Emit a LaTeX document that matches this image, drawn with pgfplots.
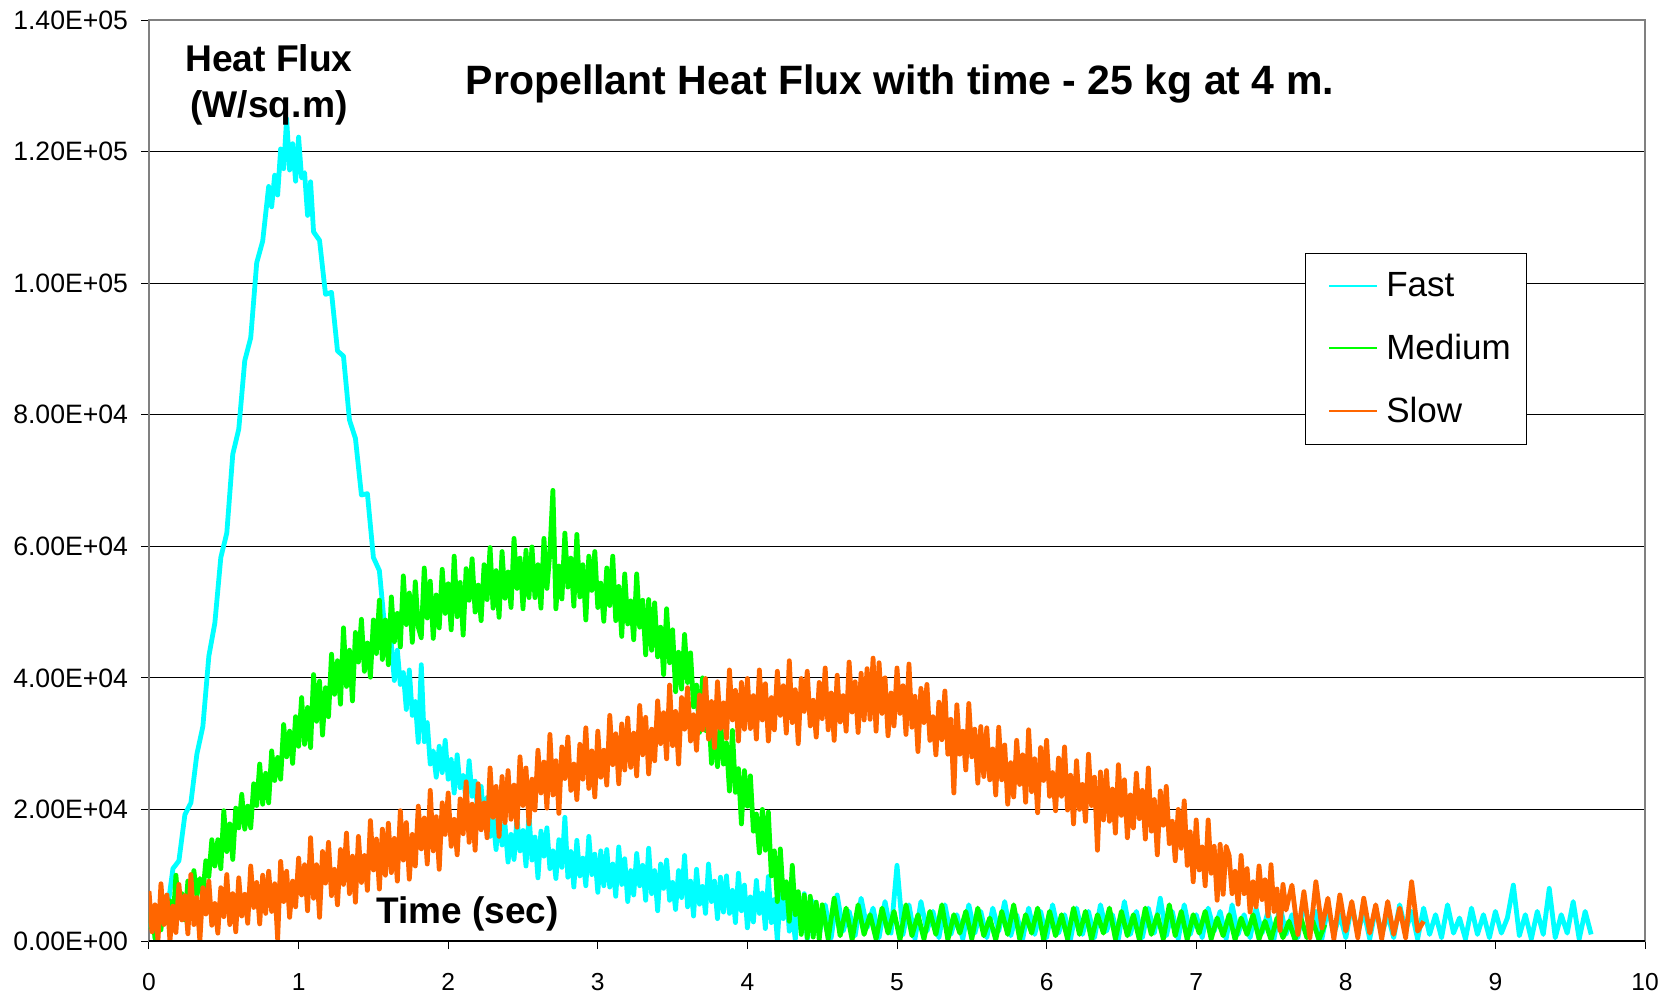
\documentclass[border=0pt]{standalone}
\usepackage{fontspec}
\setmainfont{Liberation Sans}
\usepackage{pgfplots}
\pgfplotsset{compat=1.18}
\definecolor{cfast}{RGB}{0,255,255}
\definecolor{cmed}{RGB}{0,255,0}
\definecolor{cslow}{RGB}{255,102,0}
\begin{document}
\begin{tikzpicture}
\useasboundingbox (-74.5pt,-26pt) rectangle (758.5pt,470.5pt);
\begin{axis}[
  at={(0,0)}, anchor=south west,
  scale only axis, width=748pt, height=460.5pt,
  xmin=0, xmax=10, ymin=0, ymax=140,
  xtick={0,1,...,10}, ytick={0,20,...,140},
  yticklabels={0.00E+00,2.00E+04,4.00E+04,6.00E+04,8.00E+04,1.00E+05,1.20E+05,1.40E+05},
  ymajorgrids, major grid style={black, line width=0.5pt},
  axis line style={draw=gray, line width=0.75pt},
  tick align=outside, tick pos=left, tick style={black, line width=0.5pt}, major tick length=4pt,
  xticklabel style={font=\fontsize{12.3}{14}\selectfont, yshift=-8.5pt},
  yticklabel style={font=\fontsize{13.3}{15}\selectfont, xshift=-3pt},
  /pgf/number format/assume math mode=true,
  every axis title shift=0pt,
  title={Propellant Heat Flux with time - 25 kg at 4 m.},
  title style={at={(rel axis cs:0.502,0.931)}, anchor=center, font=\bfseries\fontsize{20.5}{24}\selectfont},
  xlabel={Time (sec)},
  xlabel style={at={(rel axis cs:0.213,0.029)}, anchor=center, font=\bfseries\fontsize{18.5}{22}\selectfont},
  ylabel={Heat Flux\\(W/sq.m)},
  ylabel style={at={(rel axis cs:0.0802,0.930)}, anchor=center, rotate=-90, align=center, font=\bfseries\fontsize{18.6}{23}\selectfont},
  legend style={at={(rel axis cs:0.7727,0.747)}, anchor=north west, draw=black, line width=0.5pt, fill=white,
    font=\fontsize{17.5}{21}\selectfont, row sep=13.2pt, inner xsep=6pt, inner ysep=7.5pt, cells={anchor=west}},
  legend image code/.code={\path (0pt,0pt) (30pt,0pt); \draw[#1, line width=1pt] (4.8pt,0pt) -- (28.8pt,0pt);},
  every axis plot/.append style={line width=2.4pt, line join=round, mark=none},
]
\addplot[color=cfast] coordinates {
(0,2.7)(0.04,1.1)(0.08,3.5)(0.12,4.2)(0.16,11)(0.20,12.2)(0.24,19.2)(0.28,21)(0.32,28.4)(0.36,32.6)(0.40,43.3)(0.44,48.3)(0.48,58.3)(0.52,62)(0.56,74)(0.60,77.8)(0.64,88.2)(0.68,91.7)(0.72,103.1)(0.76,106.4)(0.80,114.7)
(0.82,111.6)(0.84,116.4)(0.86,113.4)(0.88,120.4)(0.90,117.4)(0.92,125)(0.94,117.2)(0.96,121.2)(0.98,115.5)(1.00,122.2)(1.02,116)(1.04,116.8)(1.06,110.3)(1.08,115.4)(1.10,107.8)
(1.14,106.5)(1.18,98.3)(1.22,98.6)(1.26,89.7)(1.30,88.9)(1.34,79.2)(1.38,76.4)(1.42,67.8)(1.46,68)(1.50,58.3)(1.54,56.3)(1.58,46.5)(1.62,45.1)
(1.64,39.6)(1.66,44.2)(1.68,39.0)(1.70,40.8)(1.72,35.2)(1.74,41.2)(1.76,34.3)(1.78,36.4)(1.80,30.2)(1.82,42)(1.84,30.3)(1.86,33.2)(1.88,26.9)(1.90,28.9)(1.92,24.9)(1.94,29.6)(1.96,25.6)(1.98,30.5)
(2.00,24.6)(2.02,27.6)(2.04,22.5)(2.06,28.3)(2.08,23.3)(2.10,25.2)(2.12,21.2)(2.14,27.4)(2.16,22.0)(2.18,24.3)(2.20,18.9)(2.22,23.5)(2.24,17.9)(2.26,21.8)(2.28,15.9)(2.30,18.6)(2.32,13.9)(2.34,20)(2.36,14.6)(2.38,17.6)(2.40,12)
(2.42,16.2)(2.44,12.4)(2.46,18.7)(2.48,13.7)(2.50,16.8)(2.52,11.4)(2.54,19.3)(2.56,12.3)(2.58,15.8)(2.60,9.6)(2.62,16.7)(2.64,12.9)(2.66,17.2)(2.68,11)(2.70,13.7)(2.72,9.5)(2.74,15.4)(2.76,11.2)(2.78,18.8)(2.80,9.7)
(2.82,13.6)(2.84,8.2)(2.86,15.3)(2.88,9.9)(2.90,12.6)(2.92,8.4)(2.94,15.9)(2.96,10.1)(2.98,13.2)(3.00,7.4)(3.02,13.7)(3.04,8.4)(3.06,13.9)(3.08,8.2)(3.10,11.7)(3.12,6.8)(3.14,14.3)(3.16,8.6)(3.18,12.5)(3.20,6)
(3.22,10.7)(3.24,7)(3.26,13.3)(3.28,8.4)(3.30,11.5)(3.32,6.2)(3.34,14.1)(3.36,7.2)(3.38,10.7)(3.40,4.6)(3.42,11.7)(3.44,8)(3.46,12.3)(3.48,6.2)(3.50,8.9)(3.52,4.8)(3.54,10.7)(3.56,6.6)(3.58,13)(3.60,5.2)
(3.62,9.1)(3.64,3.8)(3.66,10.9)(3.68,5.6)(3.70,8.3)(3.72,4.2)(3.74,11.7)(3.76,6)(3.78,9.1)(3.80,3.4)(3.82,9.7)(3.84,4.4)(3.86,9.9)(3.88,4.2)(3.90,7.7)(3.92,2.8)(3.94,10.3)(3.96,4.6)(3.98,8.5)(4.00,2)
(4.02,6.7)(4.04,2.9)(4.06,9.2)(4.08,4.2)(4.10,7.3)(4.12,1.9)(4.14,9.8)(4.16,2.8)(4.18,6.3)(4.20,0.1)(4.22,7.2)(4.24,3.4)(4.26,7.7)(4.28,1.5)(4.30,4.2)(4.32,0.2)(4.34,5.9)(4.36,1.7)(4.38,7.2)(4.40,0.2)
(4.44,6.0)(4.48,1.0)(4.52,5.5)(4.56,0.5)(4.60,7.0)(4.64,1.5)(4.68,4.5)(4.72,0.8)(4.76,6.5)(4.80,2.0)(4.84,5.0)(4.88,0.5)(4.92,6.0)(4.96,1.2)(5.00,11.5)(5.04,1.0)(5.08,5.5)(5.12,0.3)(5.16,6.0)(5.20,1.5)
(5.24,4.5)(5.28,0.5)(5.32,5.5)(5.36,1.0)(5.40,4.0)(5.44,0.3)(5.48,5.5)(5.52,1.2)(5.56,4.5)(5.60,0.5)(5.64,5.0)(5.68,1.5)(5.72,6.0)(5.76,0.8)(5.80,4.0)(5.84,0.3)(5.88,5.0)(5.92,1.0)(5.96,4.5)(6.00,0.5)
(6.04,5.5)(6.08,1.2)(6.12,4.0)(6.16,0.3)(6.20,5.0)(6.24,1.0)(6.28,4.5)(6.32,0.5)(6.36,5.5)(6.40,1.5)(6.44,4.0)(6.48,0.3)(6.52,6.0)(6.56,1.0)(6.60,4.5)(6.64,0.5)(6.68,5.0)(6.72,1.2)(6.76,6.5)(6.80,0.8)
(6.84,4.5)(6.88,0.3)(6.92,5.5)(6.96,1.0)(7.00,4.0)(7.04,0.5)(7.08,5.0)(7.12,1.5)(7.16,4.5)(7.20,0.3)(7.24,5.5)(7.28,1.0)(7.32,4.0)(7.36,0.5)(7.40,5.0)(7.44,1.2)(7.48,4.5)(7.52,0.3)(7.56,5.5)(7.60,1.0)
(7.64,4.0)(7.68,0.5)(7.72,6.0)(7.76,1.5)(7.80,4.5)(7.84,0.3)(7.88,5.0)(7.92,1.0)(7.96,4.0)(8.00,0.5)(8.04,5.5)(8.08,1.2)(8.12,4.5)(8.16,0.3)(8.20,5.0)(8.24,1.0)(8.28,4.0)(8.32,0.5)(8.36,5.5)(8.40,1.5)
(8.44,4.5)(8.48,0.3)(8.52,5.0)(8.56,1.0)(8.60,4.0)(8.64,0.5)(8.68,5.5)(8.72,1.2)(8.76,3.5)(8.80,0.3)(8.84,5.0)(8.88,1.0)(8.92,4.0)(8.96,0.5)(9.00,4.5)(9.04,1.2)(9.08,3.5)(9.12,8.5)(9.16,0.8)(9.20,4.0)
(9.24,0.3)(9.28,4.5)(9.32,1.0)(9.36,8.0)(9.40,0.5)(9.44,4.0)(9.48,1.2)(9.52,6.0)(9.56,0.3)(9.60,4.5)(9.64,1.0)
};
\addlegendentry{Fast}
\addplot[color=cmed] coordinates {
(0.00,1.8)(0.02,5.0)(0.04,0.4)(0.06,4.2)(0.08,1.7)(0.10,6.7)(0.12,3.4)(0.14,6.1)(0.16,2.5)(0.18,10)(0.20,4.0)(0.22,7.2)(0.24,3.2)(0.26,9.1)(0.28,6.9)(0.30,10.7)(0.32,6.8)(0.34,9.5)(0.36,7.1)(0.38,12.2)(0.40,9.8)
(0.42,15.4)(0.44,11.4)(0.46,15.4)(0.48,11)(0.50,19.8)(0.52,13.6)(0.54,17.8)(0.56,12.4)(0.58,20.2)(0.60,17.2)(0.62,22.3)(0.64,17)(0.66,20.5)(0.68,17.2)(0.70,23.9)(0.72,20.6)(0.74,26.9)(0.76,20.8)(0.78,25.5)(0.80,21)
(0.82,28.9)(0.84,24.4)(0.86,27.9)(0.88,24.6)(0.90,32.9)(0.92,28)(0.94,31.9)(0.96,27)(0.98,34.1)(1.00,29.6)
(1.02,37)(1.04,29.9)(1.06,35.5)(1.08,29.4)(1.10,40.5)(1.12,33.4)(1.14,39.5)(1.16,31.3)(1.18,38.5)(1.20,34.1)(1.22,43.6)(1.24,37.5)(1.26,42.6)(1.28,36)(1.30,47.6)(1.32,38.7)(1.34,44.2)(1.36,36.5)(1.38,46.9)(1.40,42.4)
(1.42,48.9)(1.44,41)(1.46,45.3)(1.48,40.1)(1.50,48.8)(1.52,43.7)(1.54,51.8)(1.56,42.8)(1.58,48.8)(1.60,42)(1.62,52.3)(1.64,45.5)(1.66,49.8)(1.68,44.7)(1.70,55.5)(1.72,48.1)(1.74,52.9)(1.76,45.4)(1.78,54.6)(1.80,47.7)
(1.82,46.1)(1.84,56.7)(1.86,49.1)(1.88,54.7)(1.90,46)(1.92,52.6)(1.94,47.6)(1.96,56.5)(1.98,49.8)(2.00,54.3)(2.02,47.3)(2.04,58.5)(2.06,49.3)(2.08,54.5)(2.10,46.5)(2.12,56.6)(2.14,51.8)(2.16,58.1)(2.18,50)(2.20,54.1)
(2.22,48.7)(2.24,57.2)(2.26,51.9)(2.28,59.8)(2.30,50.6)(2.32,56.3)(2.34,49.2)(2.36,59.2)(2.38,52.1)(2.40,56.1)(2.42,50.7)(2.44,61.2)(2.46,53.6)(2.48,58.2)(2.50,50.5)(2.52,59.4)(2.54,52.2)(2.56,59.9)(2.58,52.2)(2.60,57.2)
(2.62,50.6)(2.64,61.2)(2.66,53.6)(2.68,59.2)(2.70,68.5)(2.72,50.5)(2.74,57)(2.76,52)(2.78,62)(2.80,53.8)(2.82,58.2)(2.84,50.9)(2.86,61.8)(2.88,52.3)(2.90,57.2)(2.92,48.8)(2.94,58.5)(2.96,53.3)(2.98,59.2)(3.00,50.7)
(3.02,54.4)(3.04,48.6)(3.06,56.7)(3.08,51)(3.10,58.5)(3.12,48.7)(3.14,53.9)(3.16,46.3)(3.18,55.8)(3.20,48.2)(3.22,51.7)(3.24,45.8)(3.26,55.8)(3.28,47.7)(3.30,51.8)(3.32,43.5)(3.34,51.9)(3.36,44.2)(3.38,51.4)(3.40,43.2)
(3.42,47.7)(3.44,40.5)(3.46,50.5)(3.48,42.3)(3.50,47.3)(3.52,37.9)(3.54,43.9)(3.56,38.3)(3.58,46.6)(3.60,39.3)
(3.62,43.8)(3.64,35.6)(3.66,38.9)(3.68,31.7)(3.70,40)(3.72,32)(3.74,36)(3.76,27)(3.78,32)(3.80,26.5)(3.82,33.7)(3.84,26.9)(3.86,30.1)(3.88,22.8)(3.90,32)(3.92,22.6)(3.94,26.2)(3.96,17.8)(3.98,25.9)(4.00,20.5)
(4.02,25.1)(4.04,16.7)(4.06,19.3)(4.08,13.4)(4.10,20)(4.12,13.8)(4.14,19.6)(4.16,9.9)(4.18,13.7)(4.20,6)(4.22,14)(4.24,6.5)(4.26,9)(4.28,3)(4.30,11.5)(4.32,4)(4.34,7.5)(4.36,1)(4.38,7)(4.40,0.5)
(4.42,6.8)(4.44,0.6)(4.46,5.9)(4.48,0.2)(4.50,5.5)
(4.54,0.3)(4.58,6.5)(4.62,0.8)(4.66,5.0)(4.70,0.2)(4.74,5.5)(4.78,1.0)(4.82,4.0)(4.86,0.3)(4.90,5.0)(4.94,1.2)(4.98,4.5)(5.02,0.2)(5.06,5.5)(5.10,0.8)(5.14,4.0)(5.18,0.3)(5.22,4.5)(5.26,1.0)(5.30,5.5)
(5.34,0.2)(5.38,4.0)(5.42,1.2)(5.46,4.5)(5.50,0.3)(5.54,5.0)(5.58,0.8)(5.62,3.5)(5.66,0.2)(5.70,4.5)(5.74,1.0)(5.78,5.5)(5.82,0.3)(5.86,4.0)(5.90,1.2)(5.94,5.0)(5.98,0.2)(6.02,4.5)(6.06,0.8)(6.10,4.0)
(6.14,0.3)(6.18,5.0)(6.22,1.0)(6.26,4.5)(6.30,0.2)(6.34,4.0)(6.38,1.2)(6.42,5.0)(6.46,0.3)(6.50,4.5)(6.54,0.8)(6.58,4.0)(6.62,0.2)(6.66,5.0)(6.70,1.0)(6.74,4.0)(6.78,0.3)(6.82,5.5)(6.86,0.8)(6.90,4.5)
(6.94,0.2)(6.98,4.0)(7.02,1.2)(7.06,4.5)(7.10,0.3)(7.14,3.5)(7.18,0.8)(7.22,4.0)(7.26,0.2)(7.30,3.5)(7.34,1.0)(7.38,4.0)(7.42,0.3)(7.46,3.0)(7.50,0.2)(7.54,3.5)(7.58,0.5)(7.62,3.0)(7.66,0.2)(7.70,3.5)
(7.74,0.5)(7.78,3.0)(7.82,0.2)(7.86,2.5)
};
\addlegendentry{Medium}
\addplot[color=cslow] coordinates {
(0.00,7.6)(0.02,1.4)(0.04,5.5)(0.06,0.1)(0.08,8.7)(0.10,2.5)(0.12,7)(0.14,0)(0.16,5.3)(0.18,1.3)(0.20,8.6)(0.22,3.2)(0.24,6.9)(0.26,1.1)(0.28,10.1)(0.30,2.5)(0.32,6.6)(0.34,0)(0.36,8.1)(0.38,4.1)(0.40,9.1)
(0.42,2.4)(0.44,5.7)(0.46,1.2)(0.48,8.1)(0.50,3.7)(0.52,10.1)(0.54,2.5)(0.56,7.2)(0.58,1.4)(0.60,9.6)(0.62,3.8)(0.64,7.1)(0.66,2.7)(0.68,11.4)(0.70,5.1)(0.72,8.9)(0.74,2.6)(0.76,10)(0.78,4.2)(0.80,10.6)
(0.82,4.5)(0.84,8.7)(0.86,0.3)(0.88,12.1)(0.90,6)(0.92,10.6)(0.94,3.6)(0.96,9.1)(0.98,5.2)(1.00,12.6)
(1.02,7)(1.04,11.6)(1.06,4.6)(1.08,15.7)(1.10,6.5)(1.12,11.6)(1.14,3.6)(1.16,13.6)(1.18,8.8)(1.20,15)(1.22,6.9)(1.24,10.9)(1.26,5.5)(1.28,13.9)(1.30,8.6)(1.32,16.4)(1.34,7.2)(1.36,12.9)(1.38,5.9)(1.40,15.9)
(1.42,8.9)(1.44,13)(1.46,7.7)(1.48,18.3)(1.50,10.8)(1.52,15.5)(1.54,7.9)(1.56,17)(1.58,10)(1.60,17.9)(1.62,10.4)(1.64,15.6)(1.66,9.1)(1.68,19.8)(1.70,12.3)(1.72,18)(1.74,9.4)(1.76,16.2)(1.78,11.4)(1.80,20.5)
(1.82,14)(1.84,18.7)(1.86,11.7)(1.88,22.9)(1.90,13.7)(1.92,18.9)(1.94,10.9)(1.96,21)(1.98,16.2)(2.00,22.5)(2.02,14.4)(2.04,18.5)(2.06,13.1)(2.08,21.6)(2.10,16.3)(2.12,24.2)(2.14,15)(2.16,20.8)(2.18,13.8)(2.20,23.9)
(2.22,16.9)(2.24,21)(2.26,15.7)(2.28,26.3)(2.30,18.8)(2.32,23.5)(2.34,15.9)(2.36,25)(2.38,18)(2.40,25.9)(2.42,18.5)(2.44,23.7)(2.46,17.3)(2.48,28)(2.50,20.6)(2.52,26.3)(2.54,17.8)(2.56,24.6)(2.58,19.9)(2.60,29)
(2.62,22.5)(2.64,27.2)(2.66,20.2)(2.68,31.4)(2.70,22.2)(2.72,27.4)(2.74,19.4)(2.76,29.5)(2.78,24.7)(2.80,31)(2.82,22.9)(2.84,26.9)(2.86,21.5)(2.88,29.9)(2.90,24.6)(2.92,32.4)(2.94,23.2)(2.96,28.9)(2.98,21.9)(3.00,31.9)
(3.02,24.9)(3.04,29)(3.06,23.7)(3.08,34.3)(3.10,26.8)(3.12,31.5)(3.14,23.9)(3.16,33)(3.18,26)(3.20,33.9)(3.22,26.4)(3.24,31.6)(3.26,25.1)(3.28,35.8)(3.30,28.3)(3.32,34)(3.34,25.4)(3.36,32.2)(3.38,27.4)(3.40,36.5)
(3.42,30)(3.44,34.7)(3.46,27.7)(3.48,38.9)(3.50,29.7)(3.52,34.9)(3.54,26.9)(3.56,37)(3.58,32.2)(3.60,38.5)(3.62,30.4)(3.64,34.4)(3.66,29)(3.68,37.4)(3.70,32.1)(3.72,39.9)(3.74,30.7)(3.76,36.4)(3.78,29.4)(3.80,39.4)
(3.82,32.3)(3.84,36.2)(3.86,30.8)(3.88,41.2)(3.90,33.6)(3.92,38.1)(3.94,30.4)(3.96,39.3)(3.98,32.2)(4.00,39.9)(4.02,32.3)(4.04,37.3)(4.06,30.7)(4.08,41.2)(4.10,33.6)(4.12,39.1)(4.14,30.4)(4.16,37)(4.18,32.1)(4.20,41)
(4.22,34.3)(4.24,38.8)(4.26,31.6)(4.28,42.6)(4.30,33.2)(4.32,38.2)(4.34,30)(4.36,39.9)(4.38,34.9)(4.40,41)(4.42,32.7)(4.44,36.6)(4.46,31)(4.48,39.3)(4.50,33.8)(4.52,41.5)(4.54,32.1)(4.56,37.7)(4.58,30.5)(4.60,40.4)
(4.62,33.3)(4.64,37.3)(4.66,31.9)(4.68,42.4)(4.70,34.8)(4.72,39.4)(4.74,31.7)(4.76,40.7)(4.78,33.6)(4.80,41.4)(4.82,33.7)(4.84,43)(4.86,31.9)(4.88,42.3)(4.90,34.6)(4.92,40)(4.94,31.2)(4.96,37.7)(4.98,32.7)(5.00,41.5)
(5.02,34.6)(5.04,38.8)(5.06,31.4)(5.08,42.1)(5.10,32.5)(5.12,37.2)(5.14,28.8)(5.16,38.4)(5.18,33.2)(5.20,39)(5.22,30.5)(5.24,34.1)(5.26,28.3)(5.28,36.3)(5.30,30.6)(5.32,38)(5.34,28.4)(5.36,33.7)(5.38,22.5)(5.40,35.9)
(5.42,28.4)(5.44,31.9)(5.46,26)(5.48,36.1)(5.50,28)(5.52,32.2)(5.54,24)(5.56,32.6)(5.58,25)(5.60,32.4)(5.62,24.5)(5.64,29.2)(5.66,22.2)(5.68,32.5)(5.70,24.5)(5.72,29.8)(5.74,20.8)(5.76,27.1)(5.78,21.9)(5.80,30.5)
(5.82,23.8)(5.84,28.3)(5.86,21.1)(5.88,32.1)(5.90,22.7)(5.92,27.7)(5.94,19.5)(5.96,29.4)(5.98,24.4)(6.00,30.5)(6.02,22)(6.04,25.6)(6.06,19.8)(6.08,27.8)(6.10,22)(6.12,29.5)(6.14,19.9)(6.16,25.2)(6.18,17.8)(6.20,27.4)
(6.22,20)(6.24,23.8)(6.26,18.2)(6.28,28.4)(6.30,20.6)(6.32,24.9)(6.34,13.8)(6.36,25.7)(6.38,18.4)(6.40,25.9)(6.42,18.2)(6.44,23.1)(6.46,16.4)(6.48,26.8)(6.50,19.1)(6.52,24.5)(6.54,15.7)(6.56,22.2)(6.58,17.2)(6.60,25.5)
(6.62,18.6)(6.64,22.9)(6.66,15.5)(6.68,26.3)(6.70,16.7)(6.72,21.5)(6.74,13.1)(6.76,22.8)(6.78,17.6)(6.80,23.5)(6.82,14.8)(6.84,18.2)(6.86,12.2)(6.88,20)(6.90,14.1)(6.92,21.3)(6.94,11.5)(6.96,16.6)(6.98,9)(7.00,18.4)
(7.02,10.8)(7.04,14.3)(7.06,8.4)(7.08,18.4)(7.10,10.3)(7.12,14.4)(7.14,6.2)(7.16,14.7)(7.18,7.1)(7.20,14.4)(7.22,13)(7.24,7.2)(7.26,10.6)(7.28,5.6)(7.30,13)(7.32,7.2)(7.34,11)(7.36,4.4)(7.38,9)(7.40,5.2)
(7.42,11.4)(7.44,6.3)(7.46,9.3)(7.48,3.8)(7.50,11.6)(7.52,4.5)(7.54,7.9)(7.56,1.6)(7.58,8.6)(7.60,4.7)
(7.64,8.5)(7.68,1.0)(7.72,7.5)(7.76,0.5)(7.80,9.0)(7.84,2.0)(7.88,6.5)(7.92,0.3)(7.96,7.0)(8.00,1.5)(8.04,6.0)(8.08,0.5)(8.12,6.5)(8.16,1.2)(8.20,5.5)(8.24,0.3)(8.28,6.0)(8.32,1.0)(8.36,5.0)(8.40,0.5)
(8.44,9.0)(8.48,1.5)(8.52,3.0)
};
\addlegendentry{Slow}
\draw[black, line width=0.75pt] (rel axis cs:0,0) -- (rel axis cs:1,0);
\end{axis}
\end{tikzpicture}
\end{document}
